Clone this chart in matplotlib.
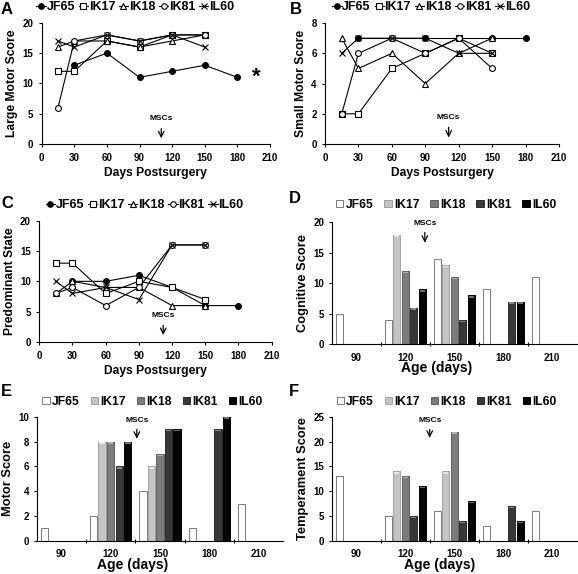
import numpy as np
import matplotlib
matplotlib.use("Agg")
import matplotlib.pyplot as plt
from matplotlib.lines import Line2D
from matplotlib.patches import Patch

plt.rcParams["font.family"] = ["Liberation Sans", "DejaVu Sans"]
plt.rcParams["font.weight"] = "bold"
plt.rcParams["axes.labelweight"] = "bold"

# --- Data ---
animals = ["JF65", "IK17", "IK18", "IK81", "IL60"]
days = [15, 30, 60, 90, 120, 150]
jf_days = [30, 60, 90, 120, 150, 180]

large_motor = {
    "JF65": [13, 15, 11, 12, 13, 11],
    "IK17": [12, 12, 17, 16, 18, 18],
    "IK18": [16, 17, 17, 16, 17, 18],
    "IK81": [6, 17, 18, 17, 18, 18],
    "IL60": [17, 16, 18, 17, 18, 16],
}
small_motor = {
    "JF65": [7, 7, 7, 7, 7, 7],
    "IK17": [2, 2, 5, 6, 7, 6],
    "IK18": [7, 5, 6, 4, 6, 7],
    "IK81": [2, 6, 7, 6, 7, 5],
    "IL60": [6, 7, 7, 7, 6, 6],
}
predominant = {
    "JF65": [10, 10, 11, 9, 6, 6],
    "IK17": [13, 13, 8, 10, 9, 7],
    "IK18": [8, 10, 9, 9, 6, 6],
    "IK81": [8, 9, 6, 9, 16, 16],
    "IL60": [10, 8, 9, 7, 16, 16],
}

ages = ["90", "120", "150", "180", "210"]
nan = np.nan
cognitive = {
    "JF65": [5, 4, 14, 9, 11],
    "IK17": [nan, 18, 13, nan, nan],
    "IK18": [nan, 12, 11, nan, nan],
    "IK81": [nan, 6, 4, 7, nan],
    "IL60": [nan, 9, 8, 7, nan],
}
motor = {
    "JF65": [1, 2, 4, 1, 3],
    "IK17": [nan, 8, 6, nan, nan],
    "IK18": [nan, 8, 7, nan, nan],
    "IK81": [nan, 6, 9, 9, nan],
    "IL60": [nan, 8, 9, 10, nan],
}
temperament = {
    "JF65": [13, 5, 6, 3, 6],
    "IK17": [nan, 14, 14, nan, nan],
    "IK18": [nan, 13, 22, nan, nan],
    "IK81": [nan, 5, 4, 7, nan],
    "IL60": [nan, 11, 8, 4, nan],
}

markers = {"JF65": "o", "IK17": "s", "IK18": "^", "IK81": "o", "IL60": "x"}
mfaces = {"JF65": "black", "IK17": "white", "IK18": "white", "IK81": "white", "IL60": "none"}
bar_colors = {"JF65": "white", "IK17": "#c4c4c4", "IK18": "#7c7c7c", "IK81": "#383838", "IL60": "#050505"}
bar_edges = {"JF65": "#7a7a7a", "IK17": "#a0a0a0", "IK18": "#606060", "IK81": "#2a2a2a", "IL60": "#000000"}
bar_tops = {"JF65": "#7a7a7a", "IK17": "#e8e8e8", "IK18": "#b0b0b0", "IK81": "#8a8a8a", "IL60": "#707070"}

fig = plt.figure(figsize=(5.78, 5.74), dpi=100)
B = "bold"


def letter(x_px, y_px, s):
    fig.text(x_px / 578, 1 - y_px / 574, s, fontsize=12, fontweight=B,
             va="center", ha="left")


def line_panel(rect, data, ymax, ystep, ylabel, legend_xy, arrow):
    ax = fig.add_axes(rect)
    for a in animals:
        x = jf_days if a == "JF65" else days
        ax.plot(x, data[a], color="black", lw=0.8, marker=markers[a],
                mfc=mfaces[a], mec="black", ms=4.2 if a != "IL60" else 4.5,
                mew=0.8, zorder=3)
    ax.set_xlim(0, 210)
    ax.set_ylim(0, ymax)
    ax.set_xticks(range(0, 211, 30))
    ax.set_yticks(np.arange(0, ymax + 0.1, ystep))
    ax.spines["top"].set_visible(False)
    ax.spines["right"].set_visible(False)
    ax.tick_params(axis="x", labelsize=7, length=2.5, width=0.8, pad=4)
    ax.tick_params(axis="y", labelsize=7, length=2.5, width=0.8, pad=3.5)
    for t in ax.get_xticklabels() + ax.get_yticklabels():
        t.set_fontweight(B)
    ax.set_xlabel("Days Postsurgery", fontsize=8.7, fontweight=B, labelpad=3)
    ax.set_ylabel(ylabel, fontsize=8.7, fontweight=B, labelpad=3)
    # MSCs arrow
    ax.annotate("", xy=(arrow[0], arrow[2]), xytext=(arrow[0], arrow[1]),
                arrowprops=dict(arrowstyle="->", lw=0.9, color="black"))
    ax.text(arrow[0], arrow[1] + ymax * 0.03, "MSCs", fontsize=6,
            fontweight=B, ha="center", va="bottom")
    handles = [Line2D([], [], color="black", lw=0.8, marker=markers[a],
                      mfc=mfaces[a], mec="black", ms=4, mew=0.8) for a in animals]
    fig.legend(handles, animals, loc="center", bbox_to_anchor=legend_xy,
               ncol=5, frameon=False, prop={"size": 9, "weight": B},
               handlelength=0.75, handletextpad=0.05, columnspacing=0.3,
               borderpad=0)
    return ax


def bar_panel(rect, data, ymax, ystep, ylabel, legend_xy, arrow, xlab_x):
    ax = fig.add_axes(rect)
    n = len(ages)
    width = 0.15
    pitch = 0.173
    for i, a in enumerate(animals):
        xs = np.arange(n) - 0.5 + 0.08 + i * pitch
        ax.bar(xs, data[a], width=width, align="edge", color=bar_colors[a],
               edgecolor=bar_edges[a], lw=0.7, zorder=2)
        # light top strip gives the bars their bevelled look
        if a != "JF65":
            ax.bar(xs + 0.02, np.array(data[a]) * 0 + ymax * 0.012,
                   bottom=np.array(data[a]) - ymax * 0.018, width=width - 0.04,
                   align="edge", color=bar_tops[a], lw=0, zorder=3)
    ax.set_xlim(-0.5, n - 0.5)
    ax.set_ylim(0, ymax)
    ax.set_xticks(range(n))
    ax.set_xticklabels(ages)
    ax.set_xticks(np.arange(0.5, n - 0.5, 1), minor=True)
    ax.set_yticks(np.arange(0, ymax + 0.1, ystep))
    ax.tick_params(axis="x", which="major", length=0, labelsize=7, pad=6)
    ax.tick_params(axis="x", which="minor", length=3, width=0.8, direction="inout")
    ax.tick_params(axis="y", labelsize=7, length=2.5, width=0.8, pad=3)
    for t in ax.get_xticklabels() + ax.get_yticklabels():
        t.set_fontweight(B)
    ax.spines["top"].set_visible(False)
    ax.spines["right"].set_visible(False)
    ax.set_xlabel("Age (days)", fontsize=10, fontweight=B, labelpad=-1)
    ax.xaxis.set_label_coords(xlab_x, -0.14)
    ax.set_ylabel(ylabel, fontsize=9.3, fontweight=B, labelpad=3)
    ax.annotate("", xy=(arrow[0], arrow[2]), xytext=(arrow[0], arrow[1]),
                arrowprops=dict(arrowstyle="->", lw=0.9, color="black"))
    ax.text(arrow[0], arrow[1] + ymax * 0.02, "MSCs", fontsize=6,
            fontweight=B, ha="center", va="bottom")
    handles = [Patch(facecolor=bar_colors[a], edgecolor=bar_edges[a], lw=0.7)
               for a in animals]
    fig.legend(handles, animals, loc="center", bbox_to_anchor=legend_xy,
               ncol=5, frameon=False, prop={"size": 8.7, "weight": B},
               handlelength=0.6, handleheight=0.6, handletextpad=0.2,
               columnspacing=0.9, borderpad=0)
    return ax


axA = line_panel([0.0721, 0.749, 0.395, 0.2113], large_motor, 20, 5,
                 "Large Motor Score", (0.234, 0.988), (110, 3.0, 0.5))
axA.text(197, 11, "*", fontsize=16, fontweight=B, ha="center", va="center")
line_panel([0.5623, 0.749, 0.4048, 0.2108], small_motor, 8, 2,
           "Small Motor Score", (0.746, 0.988), (111, 1.3, 0.25))
line_panel([0.068, 0.4042, 0.402, 0.2113], predominant, 20, 5,
           "Predominant State", (0.25, 0.643), (112, 3.2, 0.7))
bar_panel([0.5739, 0.4002, 0.4239, 0.2125], cognitive, 20, 5,
          "Cognitive Score", (0.772, 0.643), (1.4, 18.8, 16.2), 0.43)
bar_panel([0.0635, 0.058, 0.4266, 0.216], motor, 10, 2,
          "Motor Score", (0.264, 0.30), (1.53, 9.2, 8.0), 0.39)
bar_panel([0.5739, 0.058, 0.4239, 0.216], temperament, 25, 5,
          "Temperament Score", (0.773, 0.30), (1.5, 23.0, 20.2), 0.44)

letter(1, 9, "A")
letter(290, 9, "B")
letter(1, 203, "C")
letter(289, 198, "D")
letter(1, 392, "E")
letter(289, 392, "F")

fig.savefig("out.png", dpi=100)
